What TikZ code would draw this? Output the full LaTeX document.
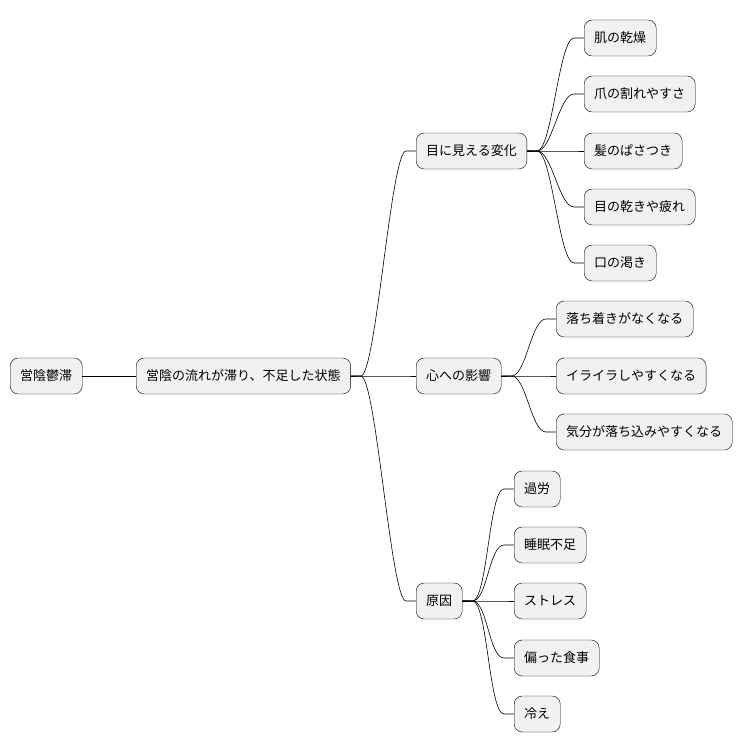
\documentclass[tikz,border=0pt]{standalone}
\usepackage{fontspec}
\setmainfont{Noto Sans CJK JP}
\usetikzlibrary{positioning}
\definecolor{boxfill}{RGB}{241,241,241}

\begin{document}
\begin{tikzpicture}[x=1pt,y=-1pt,
  topic/.style={draw=black,fill=boxfill,rounded corners=8pt,minimum height=36pt,inner xsep=10pt,font=\fontsize{13}{15}\selectfont,anchor=west},
  link/.style={draw=black,line width=0.6pt}]
  \useasboundingbox (0,0) rectangle (754,752);
  % root and its single child
  \node[topic] (root) at (10,376) {営陰鬱滞};
  \node[topic] (state) at (136,376) {営陰の流れが滞り、不足した状態};
  % main branches
  \node[topic] (visible) at (416,151) {目に見える変化};
  \node[topic] (mind) at (416,376) {心への影響};
  \node[topic] (cause) at (416,601) {原因};
  % leaves
  \node[topic] (v1) at (584,38) {肌の乾燥};
  \node[topic] (v2) at (584,94) {爪の割れやすさ};
  \node[topic] (v3) at (584,151) {髪のぱさつき};
  \node[topic] (v4) at (584,207) {目の乾きや疲れ};
  \node[topic] (v5) at (584,263) {口の渇き};
  \node[topic] (m1) at (556,319) {落ち着きがなくなる};
  \node[topic] (m2) at (556,376) {イライラしやすくなる};
  \node[topic] (m3) at (556,432) {気分が落ち込みやすくなる};
  \node[topic] (c1) at (514,489) {過労};
  \node[topic] (c2) at (514,545) {睡眠不足};
  \node[topic] (c3) at (514,601) {ストレス};
  \node[topic] (c4) at (514,658) {偏った食事};
  \node[topic] (c5) at (514,714) {冷え};
  % connectors
  \draw[link] (root.east) -- (state.west);
  \foreach \c in {visible,mind,cause}
    \draw[link] (state.east) -- ++(10,0) .. controls +(15,0) and +(-15,0) .. ([xshift=-10pt]\c.west) -- (\c.west);
  \foreach \c in {v1,v2,v3,v4,v5}
    \draw[link] (visible.east) -- ++(10,0) .. controls +(15,0) and +(-15,0) .. ([xshift=-10pt]\c.west) -- (\c.west);
  \foreach \c in {m1,m2,m3}
    \draw[link] (mind.east) -- ++(10,0) .. controls +(15,0) and +(-15,0) .. ([xshift=-10pt]\c.west) -- (\c.west);
  \foreach \c in {c1,c2,c3,c4,c5}
    \draw[link] (cause.east) -- ++(10,0) .. controls +(15,0) and +(-15,0) .. ([xshift=-10pt]\c.west) -- (\c.west);
\end{tikzpicture}
\end{document}
